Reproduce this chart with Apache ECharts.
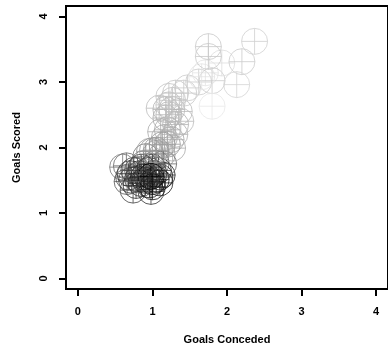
<!DOCTYPE html>
<html>
<head>
<meta charset="utf-8">
<script src="https://cdn.jsdelivr.net/npm/echarts@6/dist/echarts.min.js"></script>
<style>
  html, body { margin: 0; padding: 0; background: #fff; }
  #chart { width: 388px; height: 351px; }
</style>
</head>
<body>
<div id="chart"></div>
<script>
// goals conceded / goals scored per team-season, grey = shade of the marker
const conceded = [
  0.65, 0.60, 0.68, 0.72, 0.74, 0.80, 0.83, 0.85, 0.88, 0.91,
  0.93, 0.96, 0.98, 1.00, 1.02, 1.05, 1.05, 1.05, 1.08, 1.10,
  1.13, 1.13, 1.00, 0.96, 0.75, 0.70, 0.90, 0.95, 1.15, 0.85,
  1.00, 0.78, 0.88, 1.00, 0.98, 0.80, 1.10, 0.66,
  1.27, 1.20, 1.16, 1.25, 1.11, 1.20, 1.30, 1.38, 1.18, 1.31,
  1.22, 1.26, 1.09, 1.18, 1.36, 1.22, 1.27, 1.22, 1.31, 1.42,
  1.47, 1.13, 1.05,
  1.62, 1.71, 1.80, 1.66, 1.93, 1.75, 1.75, 2.20, 2.13, 1.80, 2.37
]
const scored = [
  1.72, 1.70, 1.55, 1.50, 1.35, 1.65, 1.60, 1.45, 1.75, 1.86,
  1.55, 1.43, 1.33, 1.48, 1.60, 1.51, 1.76, 1.91, 1.65, 1.55,
  1.58, 1.89, 1.95, 1.94, 1.65, 1.60, 1.50, 1.65, 1.75, 1.70,
  1.70, 1.42, 1.55, 1.40, 1.56, 1.52, 1.46, 1.48,
  1.99, 2.05, 2.15, 2.12, 2.24, 2.27, 2.20, 2.40, 2.45, 2.35,
  2.50, 2.58, 2.60, 2.58, 2.55, 2.65, 2.72, 2.78, 2.83, 2.83,
  2.91, 2.04, 1.96,
  3.00, 3.14, 3.02, 3.08, 3.29, 3.54, 3.39, 3.31, 2.96, 2.63, 3.62
]
const shade = [
  '#666', '#777', '#555', '#444', '#444', '#555', '#333', '#333', '#666', '#777',
  '#222', '#111', '#333', '#000', '#222', '#111', '#555', '#888', '#333', '#222',
  '#222', '#999', '#999', '#999', '#444', '#333', '#222', '#333', '#666', '#444',
  '#444', '#333', '#222', '#111', '#000', '#333', '#222', '#555',
  '#aaa', '#999', '#aaa', '#aaa', '#aaa', '#aaa', '#b0b0b0', '#bbb', '#aaa', '#b0b0b0',
  '#b4b4b4', '#b8b8b8', '#bbb', '#b4b4b4', '#bbb', '#c0c0c0', '#c0c0c0', '#c4c4c4', '#c4c4c4', '#c8c8c8',
  '#ccc', '#999', '#999',
  '#ccc', '#e4e4e4', '#ccc', '#e4e4e4', '#ddd', '#c8c8c8', '#c8c8c8', '#ccc', '#d4d4d4', '#e8e8e8', '#d0d0d0'
]
const xTicks = [0, 1, 2, 3, 4]
const yTicks = [0, 1, 2, 3, 4]

// circle with a cross, like R's pch = 10
const circlePlus = 'path://M0,13A13,13 0 1,1 26,13A13,13 0 1,1 0,13ZM13,0L13,26M0,13L26,13'

const points = conceded.map((x, i) => ({
  value: [x, scored[i]],
  itemStyle: { borderColor: shade[i] },
}))

const font = { fontFamily: 'Liberation Sans', fontWeight: 'bold', fontSize: 11, color: '#000' }

const myChart = echarts.init(document.getElementById('chart'), null, { renderer: 'canvas' })

const option = {
  animation: false,
  grid: {
    left: 66,
    top: 6,
    right: -4,
    bottom: 62,
    show: true,
    borderColor: '#000',
    borderWidth: 2,
    backgroundColor: 'transparent',
  },
  xAxis: {
    type: 'value',
    min: -0.16,
    max: 4.16,
    name: 'Goals Conceded',
    nameLocation: 'middle',
    nameGap: 45,
    nameTextStyle: font,
    axisLine: { show: false, onZero: false },
    splitLine: { show: false },
    axisTick: { show: true, length: 7, lineStyle: { color: '#000', width: 2 }, customValues: xTicks },
    axisLabel: { ...font, margin: 17, customValues: xTicks },
  },
  yAxis: {
    type: 'value',
    min: -0.16,
    max: 4.16,
    name: 'Goals Scored',
    nameLocation: 'middle',
    nameGap: 44,
    nameRotate: 90,
    nameTextStyle: font,
    axisLine: { show: false, onZero: false },
    splitLine: { show: false },
    axisTick: { show: true, length: 7, lineStyle: { color: '#000', width: 2 }, customValues: yTicks },
    axisLabel: { ...font, margin: 17, rotate: 90, customValues: yTicks },
  },
  series: [
    {
      type: 'scatter',
      symbol: circlePlus,
      symbolSize: 26,
      itemStyle: { color: 'rgba(0,0,0,0)', borderWidth: 1 },
      data: points,
    },
  ],
}

myChart.setOption(option)
</script>
</body>
</html>
